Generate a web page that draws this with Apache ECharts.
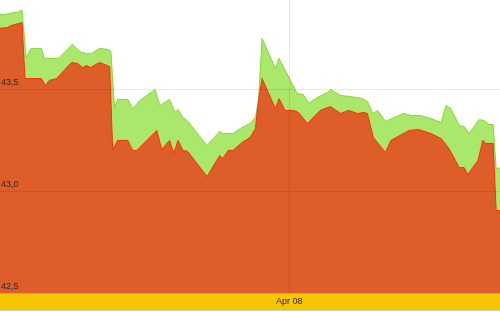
<!DOCTYPE html>
<html><head><meta charset="utf-8">
<script src="https://cdn.jsdelivr.net/npm/echarts@6/dist/echarts.min.js"></script>
<style>html,body{margin:0;padding:0;background:#fff}#c{width:500px;height:312px}</style>
</head><body><div id="c"></div>
<script>
// x values: hours relative to Apr 08 00:00
var upperSeries = [[-48.0,43.865],[-47.1,43.865],[-46.3,43.870],[-45.5,43.875],[-45.0,43.875],[-44.2,43.887],[-43.5,43.654],[-42.7,43.699],[-41.0,43.699],[-40.5,43.650],[-38.2,43.650],[-35.9,43.718],[-34.4,43.679],[-33.4,43.674],[-32.7,43.674],[-31.4,43.699],[-30.0,43.694],[-29.5,43.684],[-28.9,43.404],[-28.4,43.449],[-26.7,43.449],[-25.9,43.404],[-24.7,43.444],[-22.2,43.498],[-21.4,43.419],[-19.8,43.449],[-18.9,43.385],[-18.4,43.400],[-17.6,43.360],[-16.9,43.346],[-13.6,43.223],[-11.5,43.292],[-11.0,43.282],[-9.3,43.282],[-8.1,43.306],[-6.5,43.331],[-5.6,43.360],[-5.1,43.444],[-4.5,43.748],[-2.3,43.600],[-1.7,43.650],[0.2,43.542],[1.3,43.478],[2.3,43.473],[3.2,43.429],[4.6,43.458],[6.3,43.483],[6.8,43.498],[8.5,43.468],[10.1,43.463],[12.1,43.453],[12.9,43.439],[13.8,43.380],[14.6,43.395],[15.9,43.341],[18.9,43.380],[20.1,43.370],[21.7,43.370],[23.4,43.355],[25.1,43.336],[25.9,43.419],[26.7,43.404],[28.1,43.321],[28.9,43.316],[29.7,43.282],[31.4,43.350],[32.2,43.346],[33.0,43.326],[33.7,43.326],[34.2,43.110],[35.0,43.115]];
var lowerSeries = [[-48.0,43.797],[-46.6,43.801],[-46.0,43.811],[-44.7,43.821],[-44.2,43.826],[-43.7,43.551],[-41.0,43.551],[-40.3,43.517],[-39.7,43.542],[-38.5,43.551],[-36.0,43.630],[-35.0,43.625],[-34.2,43.605],[-33.5,43.615],[-32.9,43.605],[-31.4,43.630],[-29.7,43.610],[-29.2,43.199],[-28.4,43.248],[-26.7,43.248],[-25.9,43.199],[-25.2,43.199],[-21.9,43.297],[-21.1,43.203],[-19.8,43.248],[-19.1,43.184],[-18.4,43.248],[-17.6,43.199],[-16.8,43.194],[-13.6,43.071],[-11.5,43.174],[-11.0,43.159],[-10.1,43.199],[-9.3,43.199],[-7.8,43.238],[-6.5,43.262],[-5.6,43.306],[-5.1,43.444],[-4.5,43.551],[-2.3,43.404],[-1.7,43.453],[-0.7,43.395],[0.7,43.395],[1.5,43.385],[3.0,43.331],[5.1,43.395],[6.8,43.414],[8.5,43.380],[9.8,43.395],[11.3,43.380],[12.3,43.385],[12.9,43.380],[13.9,43.262],[15.9,43.189],[16.8,43.248],[19.8,43.297],[21.4,43.301],[23.4,43.282],[25.1,43.257],[26.4,43.208],[28.1,43.115],[28.9,43.115],[29.5,43.081],[31.2,43.150],[32.0,43.248],[32.5,43.233],[33.7,43.233],[34.2,42.904],[35.0,42.904]];
var xTickLabel = 'Apr 08';
var yTicks = [42.5, 43.0, 43.5];

var chart = echarts.init(document.getElementById('c'), null, {renderer:'canvas'});
chart.setOption({
  animation:false,
  backgroundColor:'#ffffff',
  grid:{left:-1,right:-1,top:-2,bottom:19,containLabel:false,outerBoundsMode:'none'},
  graphic:[
    {type:'rect',z:0,zlevel:0,shape:{x:0,y:293,width:500,height:18},style:{fill:'#F7C600'}},
    {type:'rect',z:0,shape:{x:0,y:310,width:500,height:1},style:{fill:'#cfcfcf'}}
  ],
  xAxis:{type:'value',min:-48,max:35,interval:48,z:5,
    axisLine:{show:true,lineStyle:{color:'#E4A23C',width:1}},
    axisTick:{show:false},
    splitLine:{show:true,lineStyle:{color:'rgba(0,0,0,0.09)',width:1}},
    axisLabel:{margin:4,fontSize:9,fontFamily:'Liberation Sans, Arial, sans-serif',color:'#2a2a2a',
      formatter:function(v){return v===0?xTickLabel:'';}}
  },
  yAxis:{type:'value',min:yTicks[0],max:42.5+295/204,interval:0.5,z:5,
    axisLine:{show:false},axisTick:{show:false},
    splitLine:{show:true,lineStyle:{color:'rgba(0,0,0,0.09)',width:1}},
    axisLabel:{inside:true,margin:2,fontSize:9,fontFamily:'Liberation Sans, Arial, sans-serif',color:'#2a2a2a',
      verticalAlign:'bottom',padding:[0,0,2,0],
      formatter:function(v){return yTicks.indexOf(Math.round(v*10)/10)>=0 && Math.abs(v-Math.round(v*10)/10)<1e-6 ? v.toFixed(1).replace('.',','):'';}}
  },
  series:[
    {type:'line',data:upperSeries,showSymbol:false,symbol:'none',
      lineStyle:{color:'#86D63C',width:1},
      areaStyle:{color:'#A9E86A',opacity:1,origin:'start'}},
    {type:'line',data:lowerSeries,showSymbol:false,symbol:'none',
      lineStyle:{color:'#FF2E00',width:1},
      areaStyle:{color:'#DD5E2B',opacity:1,origin:'start'}}
  ]
});
</script></body></html>
